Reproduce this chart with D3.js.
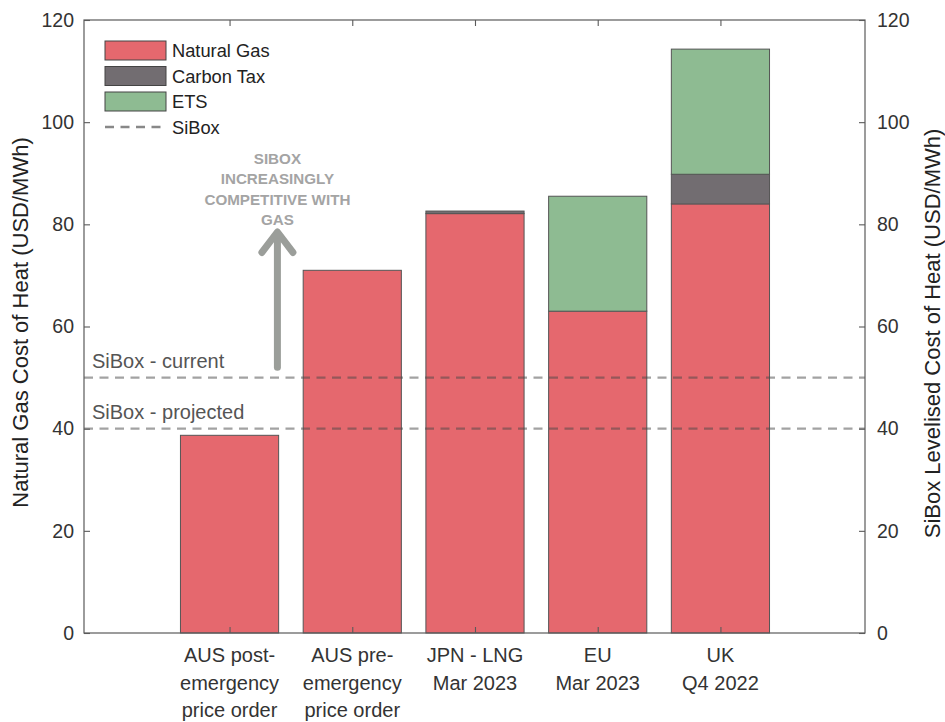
<!DOCTYPE html>
<html>
<head>
<meta charset="utf-8">
<script src="https://cdn.jsdelivr.net/npm/d3@7"></script>
<style>
  body { margin: 0; background: #fff; }
  svg { display: block; font-family: "Liberation Sans", Arial, sans-serif; }
</style>
</head>
<body>
<svg id="chart" width="945" height="722"></svg>
<script>
// data
const categories = [
  ["AUS post-", "emergency", "price order"],
  ["AUS pre-", "emergency", "price order"],
  ["JPN - LNG", "Mar 2023"],
  ["EU", "Mar 2023"],
  ["UK", "Q4 2022"]
]
const naturalGas = [38.7, 71.0, 82.1, 63.0, 84.0]
const carbonTax = [0, 0, 0.5, 0, 5.8]
const ets = [0, 0, 0, 22.5, 24.5]
const seriesNames = ["Natural Gas", "Carbon Tax", "ETS"]
const siboxValues = [50, 40]
const siboxLabels = ["SiBox - current", "SiBox - projected"]
const yTicks = [0, 20, 40, 60, 80, 100, 120]
const noteLines = ["SIBOX", "INCREASINGLY", "COMPETITIVE WITH", "GAS"]

const colors = ["#e5686e", "#726d71", "#8ebb92"]

const plotLeft = 84, plotRight = 865, plotTop = 20, plotBottom = 633

const svg = d3.select("#chart")

const x = d3.scaleLinear().domain([-0.186, 6.178]).range([plotLeft, plotRight])
const y = d3.scaleLinear().domain([0, 120]).range([plotBottom, plotTop])
const barW = 0.8

const rows = categories.map((c, i) => ({
  i: i + 1, "Natural Gas": naturalGas[i], "Carbon Tax": carbonTax[i], "ETS": ets[i]
}))
const stack = d3.stack().keys(seriesNames)(rows)

// bars
svg.append("g")
  .selectAll("g")
  .data(stack)
  .join("g")
    .attr("fill", (d, k) => colors[k])
  .selectAll("rect")
  .data(d => d.filter(s => s[1] - s[0] > 0))
  .join("rect")
    .attr("x", d => x(d.data.i - barW / 2))
    .attr("width", x(barW) - x(0))
    .attr("y", d => y(d[1]))
    .attr("height", d => y(d[0]) - y(d[1]))
    .attr("stroke", "#555")
    .attr("stroke-width", 1)

// SiBox reference lines
svg.append("g")
  .selectAll("line")
  .data(siboxValues)
  .join("line")
    .attr("x1", plotLeft).attr("x2", plotRight)
    .attr("y1", d => y(d)).attr("y2", d => y(d))
    .attr("stroke", "rgb(70,70,70)")
    .attr("stroke-opacity", 0.5)
    .attr("stroke-width", 2.3)
    .attr("stroke-dasharray", "9,6.5")

svg.append("g")
  .selectAll("text")
  .data(siboxValues)
  .join("text")
    .attr("x", plotLeft + 8)
    .attr("y", d => y(d) - 9.5)
    .attr("font-size", 20)
    .attr("fill", "#555")
    .text((d, i) => siboxLabels[i])

// annotation arrow
const ax = x(1.39)
const arrow = svg.append("g")
  .attr("stroke", "#9b9e9a")
  .attr("stroke-width", 7)
  .attr("stroke-linecap", "round")
  .attr("stroke-linejoin", "round")
  .attr("fill", "none")
arrow.append("line")
  .attr("x1", ax).attr("x2", ax)
  .attr("y1", y(52)).attr("y2", y(78.2))
arrow.append("polyline")
  .attr("points", [[ax - 15.5, y(74.5)], [ax, y(78.5)], [ax + 15.5, y(74.5)]].join(" "))

svg.append("g")
  .selectAll("text")
  .data(noteLines)
  .join("text")
    .attr("x", ax)
    .attr("y", (d, i) => 164 + i * 20.3)
    .attr("text-anchor", "middle")
    .attr("font-size", 15.2)
    .attr("font-weight", "bold")
    .attr("fill", "#a4a4a4")
    .text(d => d)

// axes
const axisColor = "#5a5a5a"
function styleAxis(g) {
  g.select(".domain").remove()
  g.selectAll(".tick line").attr("stroke", axisColor).attr("stroke-width", 1.1)
  g.selectAll(".tick text").attr("fill", "#333").attr("font-size", 19.5)
    .attr("font-family", "Liberation Sans, Arial, sans-serif")
}

svg.append("g")
  .attr("transform", `translate(${plotLeft},0)`)
  .call(d3.axisLeft(y).tickValues(yTicks).tickSize(-6).tickPadding(10))
  .call(styleAxis)

svg.append("g")
  .attr("transform", `translate(${plotRight},0)`)
  .call(d3.axisRight(y).tickValues(yTicks).tickSize(-6).tickPadding(12))
  .call(styleAxis)

const xTicks = categories.map((c, i) => i + 1)
svg.append("g")
  .attr("transform", `translate(0,${plotBottom})`)
  .call(d3.axisBottom(x).tickValues(xTicks).tickSize(-6).tickFormat(""))
  .call(styleAxis)
svg.append("g")
  .attr("transform", `translate(0,${plotTop})`)
  .call(d3.axisTop(x).tickValues(xTicks).tickSize(-6).tickFormat(""))
  .call(styleAxis)

// frame
svg.append("rect")
  .attr("x", plotLeft).attr("y", plotTop)
  .attr("width", plotRight - plotLeft).attr("height", plotBottom - plotTop)
  .attr("fill", "none")
  .attr("stroke", axisColor)
  .attr("stroke-width", 1.2)

// category labels
svg.append("g")
  .selectAll("text")
  .data(categories)
  .join("text")
    .attr("x", (d, i) => x(i + 1))
    .attr("y", plotBottom + 29)
    .attr("text-anchor", "middle")
    .attr("font-size", 20)
    .attr("fill", "#333")
  .selectAll("tspan")
  .data(d => d)
  .join("tspan")
    .attr("x", function () { return this.parentNode.getAttribute("x") })
    .attr("dy", (d, j) => j === 0 ? 0 : 27.5)
    .text(d => d)

// axis titles
svg.append("text")
  .attr("transform", `translate(28,${(plotTop + plotBottom) / 2 - 4}) rotate(-90)`)
  .attr("text-anchor", "middle")
  .attr("font-size", 22)
  .attr("fill", "#222")
  .text("Natural Gas Cost of Heat (USD/MWh)")

svg.append("text")
  .attr("transform", `translate(940,${(plotTop + plotBottom) / 2 + 7}) rotate(-90)`)
  .attr("text-anchor", "middle")
  .attr("font-size", 22)
  .attr("fill", "#222")
  .text("SiBox Levelised Cost of Heat (USD/MWh)")

// legend
const legend = svg.append("g").attr("transform", "translate(105,41)")
seriesNames.forEach((name, k) => {
  const row = legend.append("g").attr("transform", `translate(0,${k * 25.5})`)
  row.append("rect")
    .attr("width", 61).attr("height", 19)
    .attr("fill", colors[k])
    .attr("stroke", "#444").attr("stroke-width", 1)
  row.append("text")
    .attr("x", 67).attr("y", 16)
    .attr("font-size", 18.3)
    .attr("fill", "#222")
    .text(name)
})
const lastRow = legend.append("g").attr("transform", `translate(0,${3 * 25.5})`)
lastRow.append("line")
  .attr("x1", 0).attr("x2", 58).attr("y1", 9.5).attr("y2", 9.5)
  .attr("stroke", "#888").attr("stroke-width", 2.3)
  .attr("stroke-dasharray", "9,6.5")
lastRow.append("text")
  .attr("x", 67).attr("y", 16)
  .attr("font-size", 18.3)
  .attr("fill", "#222")
  .text("SiBox")
</script>
</body>
</html>
